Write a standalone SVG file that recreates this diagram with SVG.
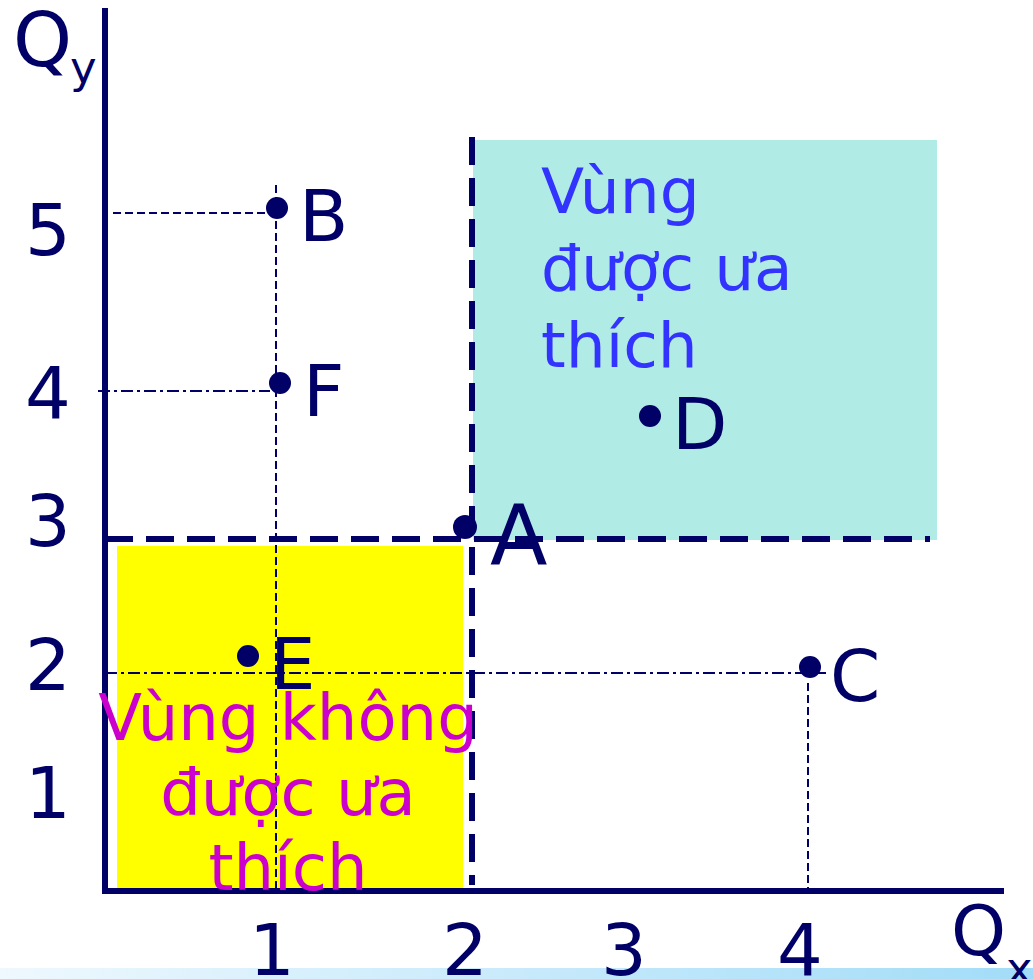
<svg xmlns="http://www.w3.org/2000/svg" width="1033" height="979" viewBox="0 0 1033 979">
<defs>
<linearGradient id="strip" x1="0" y1="0" x2="1" y2="0">
<stop offset="0" stop-color="#eef8fe"/>
<stop offset="1" stop-color="#a2dcf8"/>
</linearGradient>
</defs>
<style>
text{font-family:"DejaVu Sans","Liberation Sans",sans-serif;}
.lbl{fill:#000066;font-size:72px;}
.num{fill:#000066;font-size:72px;text-anchor:middle;}
.pref{fill:#3333ff;font-size:63px;}
.npref{fill:#cc00cc;font-size:64px;text-anchor:middle;}
.axis{stroke:#000066;stroke-width:6;fill:none;}
.thick{stroke:#000066;stroke-width:6;stroke-dasharray:28 13;fill:none;}
.dash{stroke:#000066;stroke-width:2;stroke-dasharray:8 4;fill:none;}
.dashdot{stroke:#000066;stroke-width:2;stroke-dasharray:12 4 3 4;fill:none;}
.dot{fill:#000066;}
</style>
<rect x="0" y="0" width="1033" height="979" fill="#ffffff"/>
<rect x="0" y="968" width="1033" height="11" fill="url(#strip)"/>
<g id="preferred-region">
<rect x="473" y="140" width="464" height="400" fill="#b0ebe5"/>
</g>
<g id="nonpreferred-region">
<rect x="117" y="546" width="346" height="345" fill="#ffff00"/>
</g>
<g id="connectors">
<line class="dash" x1="276" y1="185" x2="276" y2="890"/>
<line class="dash" x1="113" y1="213" x2="266" y2="213"/>
<line class="dashdot" x1="98" y1="391" x2="270" y2="391"/>
<line class="dashdot" x1="105" y1="673" x2="826" y2="673"/>
<line class="dash" x1="808" y1="683" x2="808" y2="890"/>
<line class="thick" x1="472" y1="137" x2="472" y2="885"/>
<line class="thick" x1="105" y1="539" x2="930" y2="539"/>
</g>
<g id="axes">
<line class="axis" x1="105" y1="8" x2="105" y2="894"/>
<line class="axis" x1="102" y1="891" x2="1004" y2="891"/>
<text class="lbl" x="13" y="66" style="font-size:75px">Q</text>
<text class="lbl" x="70" y="83" style="font-size:45px">y</text>
<text class="lbl" x="951" y="955" style="font-size:70px">Q</text>
<text class="lbl" x="1006" y="984" style="font-size:45px">x</text>
<text class="num" x="48" y="255">5</text>
<text class="num" x="48" y="418">4</text>
<text class="num" x="48" y="546">3</text>
<text class="num" x="48" y="690">2</text>
<text class="num" x="48" y="818">1</text>
<text class="num" x="272" y="975">1</text>
<text class="num" x="465" y="975">2</text>
<text class="num" x="624" y="975">3</text>
<text class="num" x="800" y="975">4</text>
</g>
<g id="label-preferred">
<text class="pref" x="541" y="213">Vùng</text>
<text class="pref" x="541" y="290">được ưa</text>
<text class="pref" x="541" y="367">thích</text>
</g>
<g id="label-nonpreferred">
<text class="npref" x="288" y="740">Vùng không</text>
<text class="npref" x="288" y="815">được ưa</text>
<text class="npref" x="288" y="890">thích</text>
</g>
<g id="point-B"><circle class="dot" cx="277" cy="208" r="11"/><text class="lbl" x="299" y="241">B</text></g>
<g id="point-F"><circle class="dot" cx="280" cy="383" r="11"/><text class="lbl" x="303" y="416">F</text></g>
<g id="point-A"><circle class="dot" cx="465" cy="527" r="12"/><text class="lbl" x="490" y="565" style="font-size:84px">A</text></g>
<g id="point-D"><circle class="dot" cx="650" cy="416" r="11"/><text class="lbl" x="672" y="449">D</text></g>
<g id="point-E"><circle class="dot" cx="248" cy="656" r="11"/><text class="lbl" x="270" y="689">E</text></g>
<g id="point-C"><circle class="dot" cx="810" cy="667" r="11"/><text class="lbl" x="830" y="701">C</text></g>
</svg>
